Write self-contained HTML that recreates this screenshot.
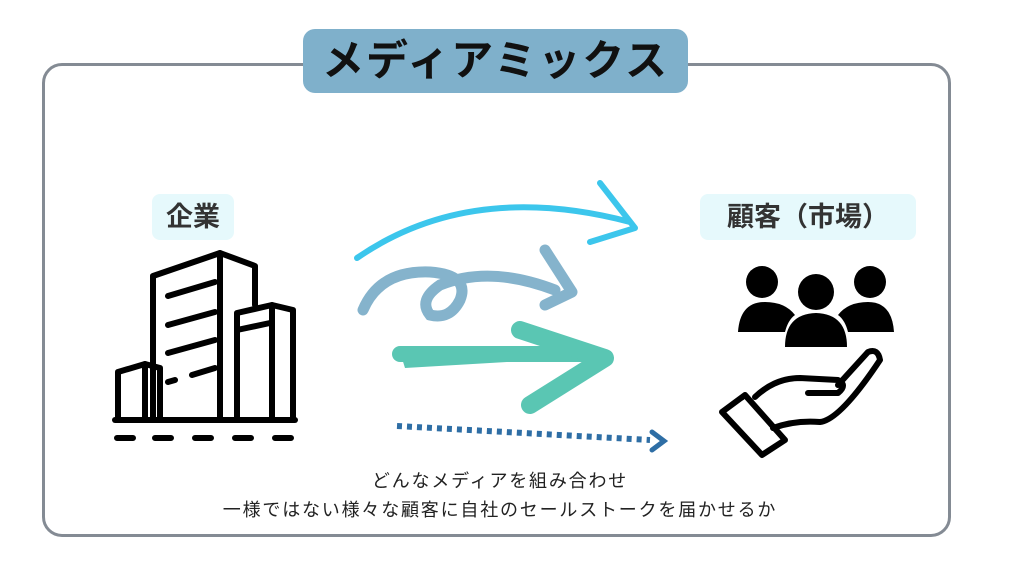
<!DOCTYPE html>
<html><head><meta charset="utf-8"><style>
html,body{margin:0;padding:0;background:#fff;width:1024px;height:576px;overflow:hidden;position:relative;font-family:"Liberation Sans","Noto Sans CJK JP",sans-serif;}
.frame{position:absolute;left:42px;top:63px;width:903px;height:468px;border:3px solid #848b94;border-radius:20px;box-sizing:content-box;}
.title{position:absolute;left:303px;top:29px;width:385px;height:64px;background:#7fb0cb;border-radius:12px;text-align:center;line-height:64px;font-size:42px;font-weight:bold;color:#111;letter-spacing:2px;}
.lab{position:absolute;background:#e6f9fc;border-radius:8px;text-align:center;font-weight:bold;color:#333;font-size:27px;line-height:46px;height:46px;}
.txt{position:absolute;left:0;width:1000px;text-align:center;font-size:18px;color:#222;letter-spacing:1.8px;}
</style></head><body>
<div class="frame"></div>
<div class="title">メディアミックス</div>
<div class="lab" style="left:152px;top:194px;width:82px;">企業</div>
<div class="lab" style="left:700px;top:194px;width:216px;">顧客（市場）</div>
<div class="txt" style="top:467px;">どんなメディアを組み合わせ</div>
<div class="txt" style="top:496px;">一様ではない様々な顧客に自社のセールストークを届かせるか</div>
<svg width="1024" height="576" style="position:absolute;left:0;top:0">
<g fill="none" stroke="#000" stroke-width="6" stroke-linejoin="round" stroke-linecap="round">
<path d="M153 420 V276 L220 253 L255 266 V305"/>
<path d="M220 253 V420"/>
<path d="M237 420 V313 L272 305 L293 310 V420"/>
<path d="M272 305 V420"/>
<path d="M237 330 L270 323"/>
<path d="M153 420 H118 V372 L145 364 L160 368 V420"/>
<path d="M145 364 V420"/>
<path d="M115 420 H295"/>
<path d="M168 296 L215 282 M168 325 L215 312 M168 353 L215 340 M168 382 L175 380 M192 375 L215 368"/>
<path d="M117 438 H133 M155 438 H171 M195 438 H211 M235 438 H251 M275 438 H291" stroke-width="6"/>
</g>
<path d="M357 258 Q470 180 630 222" fill="none" stroke="#3cc6ec" stroke-width="6" stroke-linecap="round"/>
<path d="M600 183 L635 228 L590 242" fill="none" stroke="#3cc6ec" stroke-width="6" stroke-linecap="round" stroke-linejoin="round"/>
<path d="M363 310 Q380 270 430 272 Q470 275 460 300 Q450 320 430 315 Q418 300 440 285 Q490 265 555 290" fill="none" stroke="#85b3cc" stroke-width="11" stroke-linecap="round"/>
<path d="M545 250 L572 292 L545 305" fill="none" stroke="#85b3cc" stroke-width="11" stroke-linecap="round" stroke-linejoin="round"/>
<path d="M400 352 L590 357 L405 368 Z" fill="#5ac6b3"/>
<path d="M400 354 H595" stroke="#5ac6b3" stroke-width="16" stroke-linecap="round"/>
<path d="M520 330 L605 358 L530 405" fill="none" stroke="#5ac6b3" stroke-width="18" stroke-linecap="round" stroke-linejoin="round"/>
<path d="M397 426 L650 440" stroke="#2e6ea5" stroke-width="6" stroke-dasharray="5 5"/>
<path d="M652 432 L664 441 L652 450" fill="none" stroke="#2e6ea5" stroke-width="5" stroke-linecap="round"/>
<g fill="#000">
<circle cx="762" cy="282" r="16"/><circle cx="870" cy="282" r="16"/><circle cx="816" cy="292" r="18"/>
<path d="M738 332 Q740 302 765 302 Q785 302 795 315 Q788 320 785 332 Z"/>
<path d="M894 332 Q892 302 868 302 Q848 302 838 315 Q845 320 848 332 Z"/>
<path d="M785 347 Q785 314 816 313 Q847 314 847 347 Z"/>
</g>
<g fill="none" stroke="#000" stroke-width="6" stroke-linejoin="round" stroke-linecap="round">
<path d="M722 412 L745 395 L785 440 L762 455 Z"/>
<path d="M755 397 Q775 378 800 378 L838 380 Q848 385 838 393 L808 393"/>
<path d="M773 428 Q795 420 820 422 Q840 420 880 360 Q878 348 868 352 L838 385"/>
</g>
<circle cx="742" cy="398" r="2.5" fill="#000"/>
</svg>
</body></html>
